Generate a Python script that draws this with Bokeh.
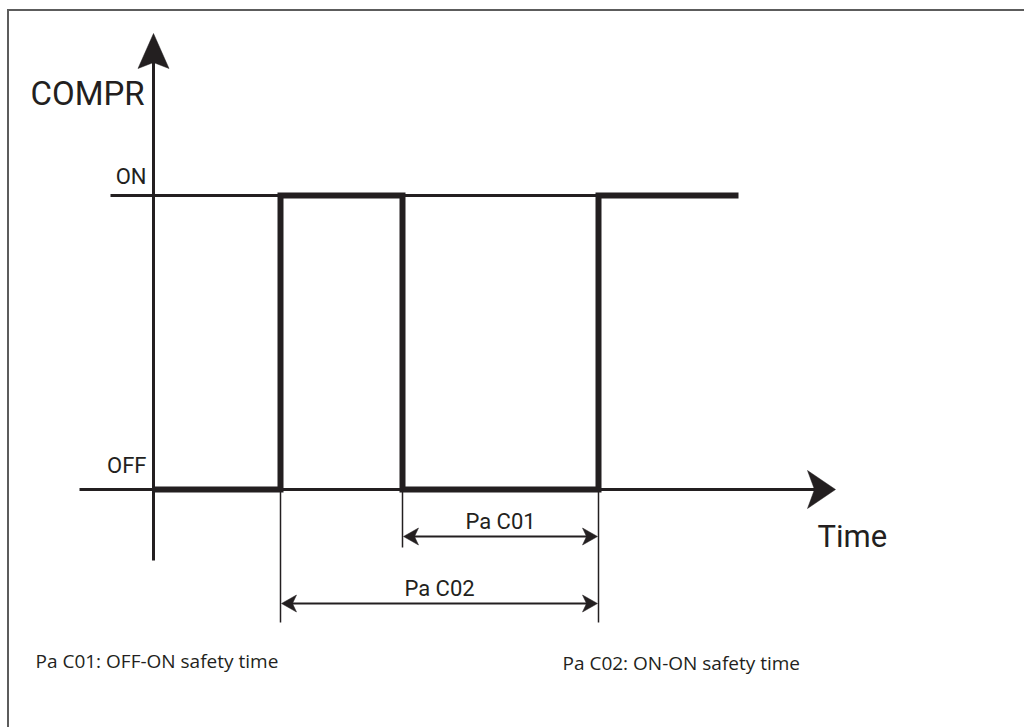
from bokeh.plotting import figure
from bokeh.models import Range1d
from bokeh.embed import file_html
from bokeh.resources import INLINE
from bokeh.core.properties import value

# ---------------- data ----------------
switch_times = [127, 249, 445]      # OFF->ON, ON->OFF, OFF->ON
t_start = 0
t_end = 585
initial_state = 0                    # 0 = OFF, 1 = ON
state_names = ["OFF", "ON"]
state_levels = [0, 1]
y_title = "COMPR"
x_title = "Time"
dim_names = ["Pa C01", "Pa C02"]
dim_from = [249, 127]
dim_to = [445, 445]
notes = ["Pa C01: OFF-ON safety time", "Pa C02: ON-ON safety time"]

# ---------------- layout ----------------
W, H = 1024, 727
PX_X = 1.0          # pixels per time unit
PX_Y = 294.0        # pixels per state unit
X0 = -153.0
Y1 = 1 + 195.0 / PX_Y
Y0 = Y1 - H / PX_Y
INK = "#231f20"
COND = value("Roboto")
HUMAN = value("Open Sans")
BASE_FIX = 0.35     # baseline correction, fraction of the font size

def px_y(py):          # page pixel row -> state units
    return (489 - py) / PX_Y

def px_x(px):          # page pixel column -> time units
    return px - 153

def base_y(py, fs):    # wanted baseline row -> y for a text of size fs
    return px_y(py - BASE_FIX * fs)

p = figure(width=W, height=H, output_backend="svg", toolbar_location=None,
           x_range=Range1d(X0, X0 + W / PX_X), y_range=Range1d(Y0, Y1),
           min_border=0, outline_line_color=None)
p.axis.visible = False
p.grid.visible = False
p.background_fill_color = "white"
p.border_fill_color = "white"

# frame (only top and left edges visible)
p.line([px_x(7.5), px_x(7.5), px_x(1100)], [px_y(800), px_y(9.5), px_y(9.5)],
       line_color="#5c5c5c", line_width=2, line_join="miter")

def head(tx, ty, ux, uy, length, half, notch):
    TX, TY = tx * PX_X, ty * PX_Y
    nx, ny = -uy, ux
    pts = [(TX, TY),
           (TX - ux * length + nx * half, TY - uy * length + ny * half),
           (TX - ux * (length - notch), TY - uy * (length - notch)),
           (TX - ux * length - nx * half, TY - uy * length - ny * half)]
    return [a / PX_X for a, b in pts], [b / PX_Y for a, b in pts]

heads_x, heads_y = [], []

# y axis
y_tip = px_y(33)
p.line([0, 0], [px_y(560), y_tip - 20 / PX_Y], line_color=INK, line_width=3)
hx, hy = head(0, y_tip, 0, 1, 35, 15.5, 6)
heads_x.append(hx); heads_y.append(hy)

# x (time) axis at OFF level
x_tip = px_x(835)
p.line([px_x(79), x_tip - 15], [0, 0], line_color=INK, line_width=3)
hx, hy = head(x_tip, 0, 1, 0, 28, 19, 7)
heads_x.append(hx); heads_y.append(hy)

# ON reference line
p.line([px_x(110), switch_times[-1]], [1, 1], line_color=INK, line_width=3)

# compressor state (step signal)
xs, ys = [t_start], [initial_state]
s = initial_state
for t in switch_times:
    xs.append(t); ys.append(s)
    s = 1 - s
    xs.append(t); ys.append(s)
xs.append(t_end); ys.append(s)
p.line(xs, ys, line_color=INK, line_width=6, line_join="miter", line_cap="butt")

# extension lines
ext_bottom = {127: px_y(622), 249: px_y(547), 445: px_y(622)}
for t, yb in ext_bottom.items():
    p.line([t, t], [0, yb], line_color=INK, line_width=1.5)

# dimension arrows
dim_rows = [536, 603]
for name, a, b, row in zip(dim_names, dim_from, dim_to, dim_rows):
    yy = px_y(row)
    p.line([a + 10, b - 10], [yy, yy], line_color=INK, line_width=2)
    hx, hy = head(a + 1, yy, -1, 0, 15, 8.5, 4)
    heads_x.append(hx); heads_y.append(hy)
    hx, hy = head(b - 1, yy, 1, 0, 15, 8.5, 4)
    heads_x.append(hx); heads_y.append(hy)
    p.text(x=[(a + b) / 2], y=[base_y(row - 7, 22)], text=[name], text_font=COND,
           text_font_size="22px", text_align="center", text_baseline="alphabetic",
           text_color=INK)

p.patches(heads_x, heads_y, fill_color=INK, line_color=INK, line_width=0.5)

# state labels
p.text(x=[px_x(146)] * 2, y=[base_y(473, 22), base_y(184, 22)], text=state_names,
       text_font=COND, text_font_size="22px", text_align="right",
       text_baseline="alphabetic", text_color=INK)

# axis titles
p.text(x=[px_x(30)], y=[base_y(105, 33)], text=[y_title], text_font=COND,
       text_font_size="33px", text_align="left", text_baseline="alphabetic", text_color=INK)
p.text(x=[px_x(817)], y=[base_y(547, 31)], text=[x_title], text_font=COND,
       text_font_size="31px", text_align="left", text_baseline="alphabetic", text_color=INK)

# notes
p.text(x=[px_x(35), px_x(562)], y=[base_y(667, 19), base_y(669, 19)], text=notes,
       text_font=HUMAN, text_font_size="19px", text_align="left",
       text_baseline="alphabetic", text_color=INK)

open("out.html", "w").write(file_html(p, INLINE))
